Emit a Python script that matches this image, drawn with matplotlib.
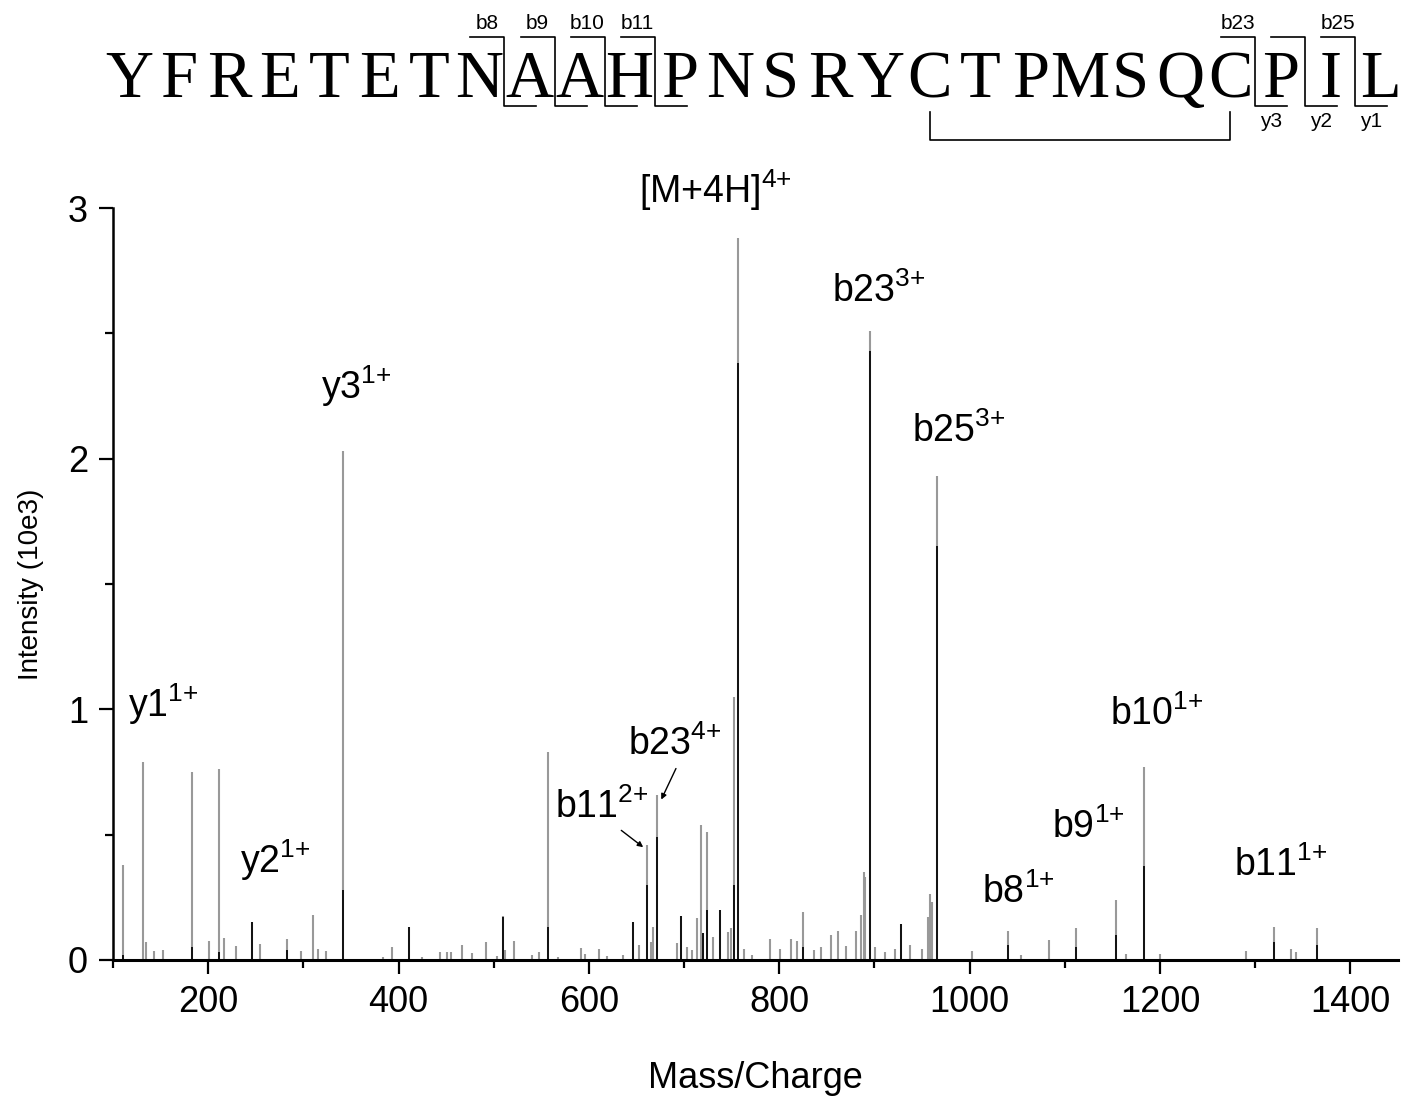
import matplotlib
matplotlib.use("Agg")
import matplotlib.pyplot as plt
from matplotlib.ticker import MultipleLocator

plt.rcParams['font.family'] = ['Liberation Sans', 'DejaVu Sans']
plt.rcParams['mathtext.fontset'] = 'custom'
plt.rcParams['mathtext.rm'] = 'Liberation Sans'
plt.rcParams['mathtext.it'] = 'Liberation Sans:italic'
plt.rcParams['mathtext.bf'] = 'Liberation Sans:bold'

# ---------- data ----------
sequence = "YFRETETNAAHPNSRYCTPMSQCPIL"
b_cuts = [8, 9, 10, 11, 23, 25]
y_cuts = [23, 24, 25]
all_cuts = [8, 9, 10, 11, 23, 24, 25]
disulfide = [16, 22]

# full spectrum (grey)
mz_grey = [110.4, 131.8, 134.9, 143.3, 152.8, 183.2, 201.0, 211.5, 216.8, 229.0,
           245.9, 254.6, 283.0, 297.6, 310.2, 315.2, 324.0, 341.7,
           383.4, 393.2, 411.3, 424.4, 443.6, 450.6, 454.8, 467.0, 476.9, 491.5,
           503.1, 510.0, 511.8, 521.0, 539.8, 547.5, 557.3, 567.5, 591.6, 595.8,
           610.2, 618.6, 636.0,
           645.9, 652.8, 660.6, 664.8, 667.5, 671.7, 692.0, 696.3, 702.6, 707.8,
           713.7, 717.3, 719.4, 724.2, 729.9, 737.5, 746.2, 748.8, 752.6, 756.7,
           762.7, 770.8, 790.0,
           800.5, 812.8, 818.1, 825.0, 836.5, 844.3, 854.8, 861.7, 870.5, 880.3,
           886.3, 888.7, 890.5, 895.7, 900.3, 910.8, 921.3, 927.6, 937.0, 949.9,
           956.2, 958.7, 960.4, 965.7,
           1002.8, 1040.2, 1054.3, 1082.9, 1111.3, 1154.0, 1164.5, 1182.7, 1200.2,
           1290.5, 1319.2, 1337.7, 1343.0, 1365.0]
int_grey = [0.38, 0.79, 0.07, 0.035, 0.04, 0.75, 0.077, 0.76, 0.086, 0.057,
            0.15, 0.064, 0.084, 0.037, 0.18, 0.044, 0.035, 2.03,
            0.01, 0.053, 0.13, 0.01, 0.03, 0.03, 0.03, 0.06, 0.027, 0.073,
            0.015, 0.174, 0.04, 0.075, 0.02, 0.03, 0.83, 0.01, 0.048, 0.025,
            0.044, 0.015, 0.02,
            0.15, 0.06, 0.46, 0.073, 0.13, 0.66, 0.066, 0.175, 0.053, 0.04,
            0.166, 0.54, 0.106, 0.51, 0.093, 0.20, 0.11, 0.126, 1.05, 2.88,
            0.044, 0.02, 0.084,
            0.043, 0.085, 0.076, 0.19, 0.04, 0.05, 0.098, 0.116, 0.056, 0.116,
            0.18, 0.35, 0.33, 2.51, 0.05, 0.03, 0.043, 0.145, 0.06, 0.043,
            0.17, 0.265, 0.23, 1.93,
            0.037, 0.117, 0.02, 0.08, 0.128, 0.24, 0.024, 0.77, 0.024,
            0.037, 0.13, 0.044, 0.03, 0.128]

# overlaid spectrum (black)
mz_black = [110.4, 183.2, 211.5, 245.9, 283.0, 341.7, 411.3, 510.0, 557.3,
            645.9, 660.6, 671.7, 696.3, 719.4, 724.2, 737.5, 752.6, 756.7,
            825.0, 895.7, 927.6, 965.7, 1040.2, 1111.3, 1154.0, 1182.7,
            1319.2, 1365.0]
int_black = [0.02, 0.05, 0.03, 0.15, 0.04, 0.28, 0.13, 0.17, 0.133,
             0.15, 0.30, 0.49, 0.175, 0.106, 0.20, 0.20, 0.30, 2.38,
             0.05, 2.43, 0.145, 1.65, 0.06, 0.05, 0.10, 0.376,
             0.07, 0.06]

ion_labels = [r'y1$^{\mathrm{1{+}}}$', r'y2$^{\mathrm{1{+}}}$', r'y3$^{\mathrm{1{+}}}$',
              r'[M+4H]$^{\mathrm{4{+}}}$', r'b23$^{\mathrm{3{+}}}$', r'b25$^{\mathrm{3{+}}}$',
              r'b10$^{\mathrm{1{+}}}$', r'b9$^{\mathrm{1{+}}}$', r'b8$^{\mathrm{1{+}}}$',
              r'b11$^{\mathrm{1{+}}}$']
ion_x = [116, 233, 318, 653, 855, 939, 1147, 1086, 1013, 1278]
ion_y = [1.02, 0.40, 2.29, 3.07, 2.67, 2.11, 0.98, 0.53, 0.27, 0.38]

# ---------- figure ----------
fig = plt.figure(figsize=(14.16, 10.99), dpi=100)
ax = fig.add_axes([0.0798, 0.1265, 0.9075, 0.6842])

ax.vlines(mz_grey, 0, int_grey, color='#999999', lw=1.5)
ax.vlines(mz_black, 0, int_black, color='#111111', lw=1.4)

ax.set_xlim(100, 1450)
ax.set_ylim(0, 3)
ax.xaxis.set_major_locator(MultipleLocator(200))
ax.xaxis.set_minor_locator(MultipleLocator(100))
ax.yaxis.set_major_locator(MultipleLocator(1))
ax.yaxis.set_minor_locator(MultipleLocator(0.5))
ax.tick_params(which='major', direction='out', length=10, width=1.6, labelsize=26, pad=8)
ax.tick_params(which='minor', direction='out', length=6, width=1.6)
for s in ['top', 'right']:
    ax.spines[s].set_visible(False)
ax.spines['left'].set_linewidth(1.8)
ax.spines['bottom'].set_linewidth(2.2)

ax.set_xlabel('Mass/Charge', fontsize=26, va='center')
ax.xaxis.set_label_coords(0.5, -0.157)
ax.set_ylabel('Intensity (10e3)', fontsize=20, va='center')
ax.yaxis.set_label_coords(-0.064, 0.5)

for lab, x, y in zip(ion_labels, ion_x, ion_y):
    ax.text(x, y, lab, fontsize=27, ha='left', va='center', clip_on=False)

ax.annotate(r'b11$^{\mathrm{2{+}}}$', xy=(657, 0.45), xytext=(564, 0.61),
            fontsize=27, va='center', ha='left',
            arrowprops=dict(arrowstyle='-|>', color='black', lw=1,
                            mutation_scale=8, shrinkA=2, shrinkB=0,
                            relpos=(0.65, 0.0)))
ax.annotate(r'b23$^{\mathrm{4{+}}}$', xy=(676, 0.64), xytext=(641, 0.86),
            fontsize=27, va='center', ha='left',
            arrowprops=dict(arrowstyle='-|>', color='black', lw=1,
                            mutation_scale=8, shrinkA=2, shrinkB=0,
                            relpos=(0.54, 0.0)))

# ---------- peptide sequence with fragment markers ----------
ov = fig.add_axes([0, 0, 1, 1])
ov.set_xlim(0, 1416)
ov.set_ylim(1099, 0)
ov.axis('off')

x0, step = 129, 50.06
for i, aa in enumerate(sequence):
    ov.text(x0 + i * step, 97, aa, fontsize=48, family='Liberation Serif',
            ha='center', va='baseline')

top_y, bot_y = 37, 106
for k in all_cuts:
    xc = x0 + (k - 0.5) * step
    ov.plot([xc - 34, xc, xc, xc + 32], [top_y, top_y, bot_y, bot_y],
            color='black', lw=1.2)
for k in b_cuts:
    xc = x0 + (k - 0.5) * step
    ov.text(xc - 17, 29, 'b%d' % k, fontsize=15, ha='center', va='baseline')
for k in y_cuts:
    xc = x0 + (k - 0.5) * step
    ov.text(xc + 16, 112, 'y%d' % (len(sequence) - k), fontsize=15,
            ha='center', va='top')

c1, c2 = [x0 + i * step for i in disulfide]
ov.plot([c1, c1, c2, c2], [112, 140, 140, 112], color='black', lw=1.2)

fig.savefig('out.png', dpi=100)
